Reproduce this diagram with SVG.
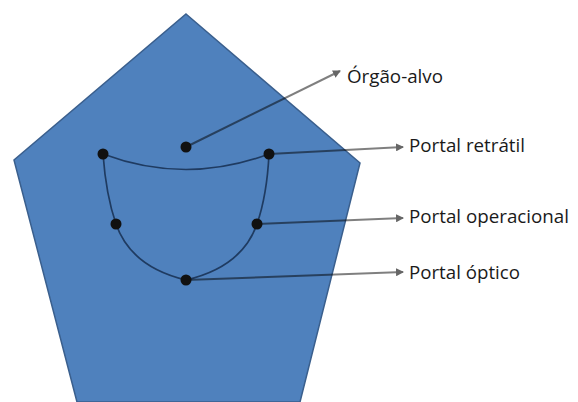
<svg xmlns="http://www.w3.org/2000/svg" width="578" height="402" viewBox="0 0 578 402">
<style>
.lbl{font-family:"Open Sans","Liberation Sans",sans-serif;font-size:19px;fill:#1a1a1a}
.port{fill:none;stroke:#1f3b61;stroke-width:1.7}
.dot{fill:#111}
.arr{fill:none;stroke:#000;stroke-opacity:0.5;stroke-width:2;marker-end:url(#ah)}
</style>
<defs>
<marker id="ah" viewBox="0 0 8 8" refX="7" refY="4" markerWidth="4" markerHeight="4" orient="auto" markerUnits="strokeWidth">
<path d="M0,0 L8,4 L0,8 Z" fill="#666"/>
</marker>
</defs>
<rect width="578" height="402" fill="#fff"/>
<g id="body">
<polygon points="186,14 360,163 300,402 77,402 14,160" fill="#4f81bd" stroke="#3a5f8d" stroke-width="1.5"/>
</g>
<g id="ring">
<path class="port" d="M103,154 Q186,185 269,154"/>
<path class="port" d="M103,154 Q106,195 116,224 Q131,267 186,280"/>
<path class="port" d="M269,154 Q267,195 257,224 Q242,267 186,280"/>
</g>
<g id="connectors">
<line class="arr" x1="186" y1="147" x2="340" y2="71"/>
<line class="arr" x1="269" y1="154" x2="403" y2="147"/>
<line class="arr" x1="257" y1="224" x2="403" y2="218"/>
<line class="arr" x1="186" y1="280" x2="403" y2="272"/>
</g>
<g id="orgao-alvo"><circle class="dot" cx="186" cy="147" r="5.5"/><text class="lbl" x="347" y="83" textLength="96" lengthAdjust="spacingAndGlyphs">Órgão-alvo</text></g>
<g id="portal-retratil"><circle class="dot" cx="103" cy="154" r="5.5"/><circle class="dot" cx="269" cy="154" r="5.5"/><text class="lbl" x="409" y="152" textLength="116" lengthAdjust="spacingAndGlyphs">Portal retrátil</text></g>
<g id="portal-operacional"><circle class="dot" cx="116" cy="224" r="5.5"/><circle class="dot" cx="257" cy="224" r="5.5"/><text class="lbl" x="409" y="223" textLength="160" lengthAdjust="spacingAndGlyphs">Portal operacional</text></g>
<g id="portal-optico"><circle class="dot" cx="186" cy="280" r="5.5"/><text class="lbl" x="409" y="279" textLength="111" lengthAdjust="spacingAndGlyphs">Portal óptico</text></g>
</svg>
